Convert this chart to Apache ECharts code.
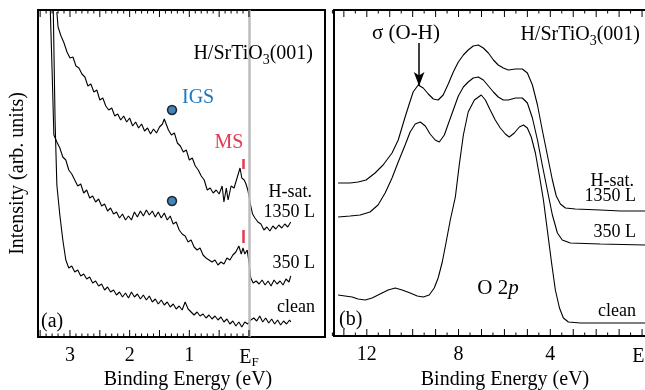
<!DOCTYPE html>
<html>
<head>
<meta charset="utf-8">
<script src="https://cdn.jsdelivr.net/npm/echarts@6/dist/echarts.min.js"></script>
<style>
  html, body { margin: 0; padding: 0; background: #fff; }
  #main { width: 645px; height: 390px; }
</style>
</head>
<body>
<div id="main"></div>
<script>
// (a) near-EF spectra, [binding energy eV, intensity arb.]
const satA = [
  [3.22,325],[3.20,310],[3.15,301],[3.10,294],[3.05,285],[3.00,279],[2.95,280],[2.90,271],[2.85,269],
  [2.80,263],[2.75,260],[2.70,251],[2.65,253],[2.60,245],[2.55,247],[2.50,237],[2.45,239],[2.40,231],
  [2.35,227],[2.30,229],[2.25,221],[2.20,223],[2.15,217],[2.10,221],[2.05,215],[2.00,219],[1.95,211],
  [1.90,215],[1.85,209],[1.80,213],[1.75,206],[1.70,209],[1.65,203],[1.60,208],[1.55,204],[1.50,210],
  [1.45,213],[1.42,218],[1.40,216],[1.35,207],[1.30,202],[1.25,204],[1.20,194],[1.15,191],[1.10,185],
  [1.05,187],[1.00,177],[0.95,179],[0.90,171],[0.85,167],[0.80,161],[0.75,157],[0.70,147],[0.65,149],
  [0.60,144],[0.55,147],[0.50,143],[0.45,151],[0.42,135],[0.38,149],[0.35,137],[0.30,151],[0.25,149],
  [0.20,159],[0.15,169],[0.12,159],[0.08,157],[0.05,153],[0.02,147],[0.00,141],[-0.03,131],[-0.06,123],
  [-0.10,119],[-0.15,115],[-0.20,113],[-0.25,107],[-0.30,110],[-0.35,106],[-0.40,111],[-0.45,108],
  [-0.50,112],[-0.55,109],[-0.60,113],[-0.65,110],[-0.70,115]
];
const l350A = [
  [3.33,327],[3.30,267],[3.27,202],[3.22,195],[3.17,189],[3.12,180],[3.07,177],[3.02,167],[2.97,163],
  [2.92,157],[2.87,151],[2.82,153],[2.77,144],[2.72,147],[2.67,139],[2.62,141],[2.57,135],[2.52,138],
  [2.47,131],[2.42,133],[2.37,126],[2.32,129],[2.27,123],[2.22,125],[2.17,119],[2.12,123],[2.07,117],
  [2.02,121],[1.97,117],[1.92,125],[1.87,120],[1.82,126],[1.77,121],[1.72,127],[1.67,122],[1.62,126],
  [1.57,120],[1.52,125],[1.47,119],[1.42,124],[1.37,117],[1.32,121],[1.27,113],[1.22,115],[1.17,107],
  [1.12,103],[1.07,101],[1.02,95],[0.97,97],[0.92,90],[0.87,87],[0.82,89],[0.77,82],[0.72,79],
  [0.67,77],[0.62,75],[0.57,77],[0.52,72],[0.47,75],[0.42,73],[0.37,79],[0.32,77],[0.27,82],
  [0.22,85],[0.17,91],[0.13,83],[0.10,89],[0.07,83],[0.03,87],[0.00,75],[-0.03,59],[-0.07,54],
  [-0.12,56],[-0.17,53],[-0.22,57],[-0.27,52],[-0.32,56],[-0.37,51],[-0.42,57],[-0.47,53],[-0.52,56],
  [-0.57,52],[-0.62,58],[-0.67,55],[-0.70,61]
];
const cleanA = [
  [3.28,327],[3.25,217],[3.22,152],[3.17,122],[3.12,97],[3.07,77],[3.02,69],[2.97,71],[2.92,65],
  [2.87,67],[2.82,61],[2.77,63],[2.72,58],[2.67,60],[2.62,54],[2.57,56],[2.52,51],[2.47,53],
  [2.42,47],[2.37,50],[2.32,45],[2.27,47],[2.22,42],[2.17,45],[2.12,40],[2.07,44],[2.02,39],
  [1.97,45],[1.92,40],[1.87,43],[1.82,38],[1.77,42],[1.72,37],[1.67,41],[1.62,35],[1.57,38],
  [1.52,33],[1.47,37],[1.42,32],[1.37,35],[1.32,30],[1.27,33],[1.22,28],[1.17,31],[1.12,27],
  [1.07,35],[1.02,28],[0.97,25],[0.92,22],[0.87,25],[0.82,21],[0.77,23],[0.72,19],[0.67,22],
  [0.62,18],[0.57,21],[0.52,17],[0.47,20],[0.42,15],[0.37,18],[0.32,13],[0.27,16],[0.22,11],
  [0.17,15],[0.12,10],[0.07,15],[0.02,13],[-0.03,17],[-0.08,19],[-0.13,16],[-0.18,21],[-0.23,15],
  [-0.28,19],[-0.33,14],[-0.38,18],[-0.43,13],[-0.48,17],[-0.53,12],[-0.58,16],[-0.63,13],
  [-0.68,17],[-0.70,15]
];
// (b) valence band spectra
const satB = [
  [13.25,153],[12.73,153],[12.38,154],[12.03,156],[11.64,163],[11.29,171],[10.90,183],[10.63,196],
  [10.33,219],[10.15,232],[9.98,244],[9.76,251],[9.54,248],[9.32,242],[9.10,237],[8.89,236],
  [8.67,241],[8.45,252],[8.23,264],[8.01,274],[7.79,281],[7.58,286],[7.36,290],[7.14,291],
  [6.92,288],[6.70,283],[6.48,276],[6.27,271],[6.05,268],[5.83,266],[5.52,267],[5.22,267],
  [5.00,263],[4.78,251],[4.56,231],[4.35,206],[4.13,181],[3.91,156],[3.74,140],[3.56,132],
  [3.34,128],[2.91,127],[1.82,126],[0.94,125],[-0.15,125],[-1.0,125]
];
const l350B = [
  [13.25,119],[12.73,120],[12.29,121],[11.86,124],[11.51,131],[11.20,143],[10.90,158],[10.63,174],
  [10.33,191],[10.11,204],[9.89,212],[9.67,214],[9.45,210],[9.24,202],[9.02,196],[8.84,194],
  [8.62,201],[8.45,212],[8.23,226],[8.01,240],[7.79,249],[7.58,254],[7.36,258],[7.14,259],
  [6.92,256],[6.70,250],[6.48,244],[6.27,239],[6.05,236],[5.83,236],[5.52,238],[5.22,238],
  [5.00,233],[4.78,218],[4.56,196],[4.35,171],[4.13,146],[3.91,121],[3.69,103],[3.48,96],
  [3.13,93],[1.82,92],[-0.15,91],[-1.0,91]
];
const cleanB = [
  [13.25,41],[12.95,40],[12.64,39],[12.38,37],[12.07,36],[11.77,38],[11.42,42],[11.07,46],
  [10.76,48],[10.46,46],[10.11,43],[9.80,40],[9.54,39],[9.28,41],[9.06,48],[8.89,58],[8.71,74],
  [8.54,94],[8.36,116],[8.14,139],[7.97,171],[7.79,201],[7.58,224],[7.31,236],[7.01,241],
  [6.83,236],[6.62,226],[6.40,216],[6.18,208],[5.96,202],[5.79,199],[5.57,203],[5.35,209],
  [5.17,211],[5.00,208],[4.83,199],[4.65,183],[4.48,161],[4.30,136],[4.13,106],[3.95,74],
  [3.78,46],[3.60,28],[3.43,18],[3.21,14],[2.69,13],[1.38,13],[-0.15,13],[-1.0,13]
];
const igsMarks = [[1.29,227],[1.29,136]];
const msMarks = [[[0.10,178],[0.10,168]],[[0.10,107],[0.10,94]]];
const ohArrow = [[9.72,293],[9.72,250]];

const aLabels = [0, 1, 2, 3];
const aMajor = [0, 0.5, 1, 1.5, 2, 2.5, 3, 3.5];
const bLabels = [0, 4, 8, 12];

const FONT = 'Liberation Serif';
const A_TOP = 327, B_TOP = 326;

const aMinor = [];
for (let i = 1; i <= 34; i++) if (i % 5) aMinor.push(+(i / 10).toFixed(2));
const bMajor = [], bMinor = [];
for (let i = 0; i <= 13; i++) { bMajor.push(i); bMinor.push(i + 0.5); }

function efLabel(v) {
  return v === 0 ? '{e|E}{s|F}' : String(v);
}

// inward frame ticks (bottom and top), placed through the axis scale
function ticks(vals, xi, top, len) {
  return {
    type: 'custom', xAxisIndex: xi, yAxisIndex: xi, z: 6, clip: false, silent: true,
    data: vals.map(v => [v, 0]),
    encode: { x: 0, y: 1 },
    renderItem: function (params, api) {
      const v = api.value(0);
      const b = api.coord([v, 0]);
      const t = api.coord([v, top]);
      const st = { stroke: '#000', lineWidth: 1 };
      return {
        type: 'group',
        children: [
          { type: 'line', shape: { x1: b[0], y1: b[1], x2: b[0], y2: b[1] - len }, style: st },
          { type: 'line', shape: { x1: t[0], y1: t[1], x2: t[0], y2: t[1] + len }, style: st }
        ]
      };
    }
  };
}

function xAxis(grid, min, max, labels) {
  return {
    type: 'value', gridIndex: grid, min: min, max: max, inverse: true,
    axisLine: { show: false }, axisTick: { show: false }, splitLine: { show: false },
    axisLabel: {
      customValues: labels, formatter: efLabel, margin: 9,
      fontFamily: FONT, fontSize: 20, color: '#000',
      rich: {
        e: { fontFamily: FONT, fontSize: 20, color: '#000' },
        s: { fontFamily: FONT, fontSize: 13, color: '#000', padding: [10, 0, 0, 0] }
      }
    }
  };
}

function curve(data, xi, yi) {
  return {
    type: 'line', data: data, xAxisIndex: xi, yAxisIndex: yi, z: 3,
    showSymbol: false, smooth: false, clip: true, animation: false,
    lineStyle: { color: '#000', width: 1.1 }
  };
}

function segs(xi, yi, data, style, symbol, z) {
  return {
    type: 'line', data: [], xAxisIndex: xi, yAxisIndex: yi, z: z || 5,
    markLine: {
      silent: true, symbol: symbol || 'none', symbolSize: [8, 14], animation: false,
      label: { show: false }, emphasis: { disabled: true },
      lineStyle: Object.assign({ type: 'solid' }, style),
      data: data
    }
  };
}

function txt(text, x, y, opts) {
  return {
    type: 'text', z: 10,
    style: Object.assign({
      text: text, x: x, y: y, fill: '#000',
      font: '18px "' + FONT + '"', textAlign: 'right', textVerticalAlign: 'middle'
    }, opts || {})
  };
}

const subRich = {
  a: { fontFamily: FONT, fontSize: 20, color: '#000' },
  b: { fontFamily: FONT, fontSize: 14, color: '#000', padding: [12, 0, 0, 0] },
  i: { fontFamily: FONT, fontSize: 21, color: '#000', fontStyle: 'italic' },
  n: { fontFamily: FONT, fontSize: 21, color: '#000' }
};

const chart = echarts.init(document.getElementById('main'), null, { renderer: 'canvas' });

const option = {
  backgroundColor: '#fff',
  animation: false,
  grid: [
    { left: 38, right: 320, top: 10, bottom: 53, show: true, borderColor: '#000', borderWidth: 2,
      outerBoundsMode: 'none', containLabel: false },
    { left: 334, right: -20, top: 10, bottom: 54, show: true, borderColor: '#000', borderWidth: 2,
      outerBoundsMode: 'none', containLabel: false }
  ],
  xAxis: [
    xAxis(0, -1.274, 3.536, aLabels),
    xAxis(1, -1.0, 13.43, bLabels)
  ],
  yAxis: [
    {
      type: 'value', gridIndex: 0, min: 0, max: A_TOP,
      axisLine: { show: false }, axisTick: { show: false }, axisLabel: { show: false },
      splitLine: { show: false },
      name: 'Intensity (arb. units)', nameLocation: 'middle', nameGap: 10,
      nameTextStyle: { fontFamily: FONT, fontSize: 20, color: '#000' }
    },
    {
      type: 'value', gridIndex: 1, min: 0, max: B_TOP, show: false
    }
  ],
  series: [
    segs(0, 0, [{ xAxis: 0 }], { color: '#bdbdbd', width: 2.5 }, 'none', 1),
    curve(satA, 0, 0),
    curve(l350A, 0, 0),
    curve(cleanA, 0, 0),
    {
      type: 'scatter', data: igsMarks, xAxisIndex: 0, yAxisIndex: 0, z: 5,
      symbolSize: 9, itemStyle: { color: '#1565a6', borderColor: '#000', borderWidth: 1.5 }
    },
    segs(0, 0, msMarks.map(s => [{ coord: s[0] }, { coord: s[1] }]),
      { color: '#e23a52', width: 2.5 }, 'none', 5),
    ticks(aMajor, 0, A_TOP, 7),
    ticks(aMinor, 0, A_TOP, 3.5),
    curve(satB, 1, 1),
    curve(l350B, 1, 1),
    curve(cleanB, 1, 1),
    segs(1, 1, [[{ coord: ohArrow[0] }, { coord: ohArrow[1] }]],
      { color: '#000', width: 1.5 }, ['none', 'arrow'], 5),
    ticks(bMajor, 1, B_TOP, 7),
    ticks(bMinor, 1, B_TOP, 3.5)
  ],
  graphic: [
    // axis titles
    txt('Binding Energy (eV)', 188, 380, { textAlign: 'center', font: '20px "' + FONT + '"' }),
    txt('Binding Energy (eV)', 505, 380, { textAlign: 'center', font: '20px "' + FONT + '"' }),
    // panel (a)
    {
      type: 'text', z: 10,
      style: {
        text: '{a|H/SrTiO}{b|3}{a|(001)}', rich: subRich,
        x: 313, y: 54, textAlign: 'right', textVerticalAlign: 'middle'
      }
    },
    txt('IGS', 182, 98, { textAlign: 'left', fill: '#1a78c2', font: '20px "' + FONT + '"' }),
    txt('MS', 229, 143, { textAlign: 'center', fill: '#e23a52', font: '20px "' + FONT + '"' }),
    txt('H-sat.', 312, 192),
    txt('1350 L', 315, 212),
    txt('350 L', 315, 263),
    txt('clean', 315, 307),
    txt('(a)', 41, 322, { textAlign: 'left', font: '20px "' + FONT + '"' }),
    // panel (b)
    txt('\u03c3 (O-H)', 372, 33, { textAlign: 'left', font: '21px "' + FONT + '"' }),
    {
      type: 'text', z: 10,
      style: {
        text: '{a|H/SrTiO}{b|3}{a|(001)}', rich: subRich,
        x: 640, y: 35, textAlign: 'right', textVerticalAlign: 'middle'
      }
    },
    txt('H-sat.', 634, 181),
    txt('1350 L', 636, 196),
    txt('350 L', 636, 232),
    {
      type: 'text', z: 10,
      style: {
        text: '{n|O 2}{i|p}', rich: subRich,
        x: 498, y: 288, textAlign: 'center', textVerticalAlign: 'middle'
      }
    },
    txt('clean', 636, 311),
    txt('(b)', 339, 320, { textAlign: 'left', font: '20px "' + FONT + '"' })
  ]
};

chart.setOption(option);
</script>
</body>
</html>
